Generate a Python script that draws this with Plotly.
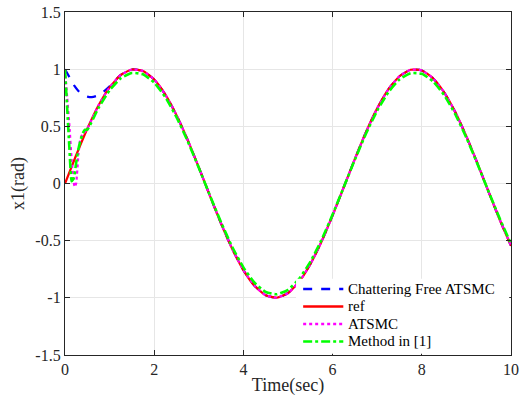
import plotly.graph_objects as go

# Reference trajectory
t_ref = [0, 0.25, 0.5, 0.75, 1.0, 1.25, 1.5, 1.75, 2.0, 2.25, 2.5, 2.75, 3.0, 3.25, 3.5, 3.75,
         4.0, 4.25, 4.5, 4.75, 5.0, 5.25, 5.5, 5.75, 6.0, 6.25, 6.5, 6.75, 7.0, 7.25, 7.5, 7.75,
         8.0, 8.25, 8.5, 8.75, 9.0, 9.25, 9.5, 9.75, 10.0]
x_ref = [0, 0.247, 0.479, 0.682, 0.841, 0.949, 0.997, 0.984, 0.909, 0.778, 0.598, 0.382, 0.141,
         -0.108, -0.351, -0.572, -0.757, -0.895, -0.978, -0.999, -0.959, -0.859, -0.706, -0.510,
         -0.279, -0.033, 0.215, 0.451, 0.657, 0.823, 0.938, 0.995, 0.989, 0.921, 0.798, 0.625,
         0.412, 0.174, -0.075, -0.319, -0.544]

# Chattering Free ATSMC
t_cf = [0, 0.1, 0.2, 0.3, 0.4, 0.5, 0.6, 0.7, 0.8, 0.9, 1.0, 1.25, 1.5, 1.75, 2.0, 2.25, 2.5,
        2.75, 3.0, 3.25, 3.5, 3.75, 4.0, 4.25, 4.5, 4.75, 5.0, 5.25, 5.5, 5.75, 6.0, 6.25, 6.5,
        6.75, 7.0, 7.25, 7.5, 7.75, 8.0, 8.25, 8.5, 8.75, 9.0, 9.25, 9.5, 9.75, 10.0]
x_cf = [1.0, 0.93, 0.86, 0.81, 0.775, 0.76, 0.755, 0.765, 0.785, 0.815, 0.85, 0.95, 0.997, 0.984,
        0.909, 0.778, 0.598, 0.382, 0.141, -0.108, -0.351, -0.572, -0.757, -0.895, -0.978,
        -0.999, -0.959, -0.859, -0.706, -0.510, -0.279, -0.033, 0.215, 0.451, 0.657, 0.823,
        0.938, 0.995, 0.989, 0.921, 0.798, 0.625, 0.412, 0.174, -0.075, -0.319, -0.544]

# ATSMC
t_at = [0, 0.05, 0.1, 0.15, 0.2, 0.22, 0.25, 0.3, 0.35, 0.4, 0.5, 0.75, 1.0, 1.25, 1.5, 1.75,
        2.0, 2.25, 2.5, 2.75, 3.0, 3.25, 3.5, 3.75, 4.0, 4.25, 4.5, 4.75, 5.0, 5.25, 5.5, 5.75,
        6.0, 6.25, 6.5, 6.75, 7.0, 7.25, 7.5, 7.75, 8.0, 8.25, 8.5, 8.75, 9.0, 9.25, 9.5, 9.75, 10.0]
x_at = [1.0, 0.75, 0.5, 0.2, 0.0, -0.03, 0.0, 0.25, 0.4, 0.43, 0.48, 0.682, 0.841, 0.949, 0.997,
        0.984, 0.909, 0.778, 0.598, 0.382, 0.141, -0.108, -0.351, -0.572, -0.757, -0.895,
        -0.978, -0.999, -0.959, -0.859, -0.706, -0.510, -0.279, -0.033, 0.215, 0.451, 0.657,
        0.823, 0.938, 0.995, 0.989, 0.921, 0.798, 0.625, 0.412, 0.174, -0.075, -0.319, -0.544]

# Method in [1]
t_m1 = [0, 0.05, 0.1, 0.15, 0.2, 0.25, 0.3, 0.35, 0.4, 0.45, 0.5, 0.75, 1.0, 1.25, 1.5, 1.75,
        2.0, 2.25, 2.5, 2.75, 3.0, 3.25, 3.5, 3.75, 4.0, 4.25, 4.5, 4.75, 5.0, 5.25, 5.5, 5.75,
        6.0, 6.25, 6.5, 6.75, 7.0, 7.25, 7.5, 7.75, 8.0, 8.25, 8.5, 8.75, 9.0, 9.25, 9.5, 9.75, 10.0]
x_m1 = [1.0, 0.65, 0.3, 0.02, 0.05, 0.18, 0.3, 0.38, 0.44, 0.47, 0.47, 0.66, 0.815, 0.92, 0.967,
        0.955, 0.882, 0.755, 0.58, 0.371, 0.137, -0.105, -0.34, -0.555, -0.734, -0.868, -0.949,
        -0.969, -0.93, -0.833, -0.685, -0.495, -0.271, -0.032, 0.209, 0.437, 0.637, 0.798,
        0.91, 0.965, 0.959, 0.893, 0.774, 0.606, 0.4, 0.169, -0.073, -0.309, -0.528]

y_ticks = [-1.5, -1, -0.5, 0, 0.5, 1, 1.5]
y_tick_text = ["-1.5", "-1", "-0.5", "0", "0.5", "1", "1.5"]
x_ticks = [0, 2, 4, 6, 8, 10]

series_names = ["Chattering Free ATSMC", "ref", "ATSMC", "Method in [1]"]
series_colors = ["#0000FF", "#FF0000", "#FF00FF", "#00FF00"]
series_dashes = ["dash", "solid", "dot", "dashdot"]
series_widths = [2.2, 2.2, 2.2, 2.6]
series_t = [t_cf, t_ref, t_at, t_m1]
series_x = [x_cf, x_ref, x_at, x_m1]

fig = go.Figure()
for name, col, dsh, w, tt, xx in zip(series_names, series_colors, series_dashes,
                                     series_widths, series_t, series_x):
    fig.add_trace(go.Scatter(x=tt, y=xx, mode="lines", name=name, showlegend=False,
                             line=dict(color=col, width=w, dash=dsh, shape="spline",
                                       smoothing=0.5)))

axis_common = dict(showline=True, linecolor="#262626", linewidth=1.3, mirror="ticks",
                   ticks="inside", ticklen=5, tickcolor="#262626", showgrid=True,
                   gridcolor="#E6E6E6", gridwidth=1, zeroline=False, automargin=False,
                   tickfont=dict(family="Liberation Serif", size=16, color="#262626"))

# Manual legend box (MATLAB-like compact legend)
shapes = [dict(type="rect", xref="paper", yref="paper", x0=0.518, x1=0.996, y0=0.004, y1=0.222,
               fillcolor="white", line=dict(width=0), layer="above")]
annotations = []
row_y = [0.1924, 0.1414, 0.0904, 0.0394]
for name, col, dsh, yy in zip(series_names, series_colors, series_dashes, row_y):
    shapes.append(dict(type="line", xref="paper", yref="paper", x0=0.534, x1=0.624, y0=yy, y1=yy,
                       line=dict(color=col, width=2.4, dash=dsh), layer="above"))
    annotations.append(dict(xref="paper", yref="paper", x=0.632, y=yy, text=name, showarrow=False,
                            xanchor="left", yanchor="middle", borderpad=0,
                            font=dict(family="Liberation Serif", size=15, color="#000000")))

fig.update_layout(
    width=524, height=399,
    margin=dict(l=65, r=13, t=12, b=44),
    paper_bgcolor="white", plot_bgcolor="white",
    font=dict(family="Liberation Serif", color="#262626"),
    xaxis=dict(range=[0, 10], tickvals=x_ticks,
               title=dict(text="Time(sec)", font=dict(size=18, family="Liberation Serif"), standoff=1),
               **axis_common),
    yaxis=dict(range=[-1.5, 1.5], tickvals=y_ticks, ticktext=y_tick_text,
               title=dict(text="x1(rad)", font=dict(size=18, family="Liberation Serif"), standoff=6),
               **axis_common),
    shapes=shapes,
    annotations=annotations,
    showlegend=False,
)

fig.write_html("out.html")
